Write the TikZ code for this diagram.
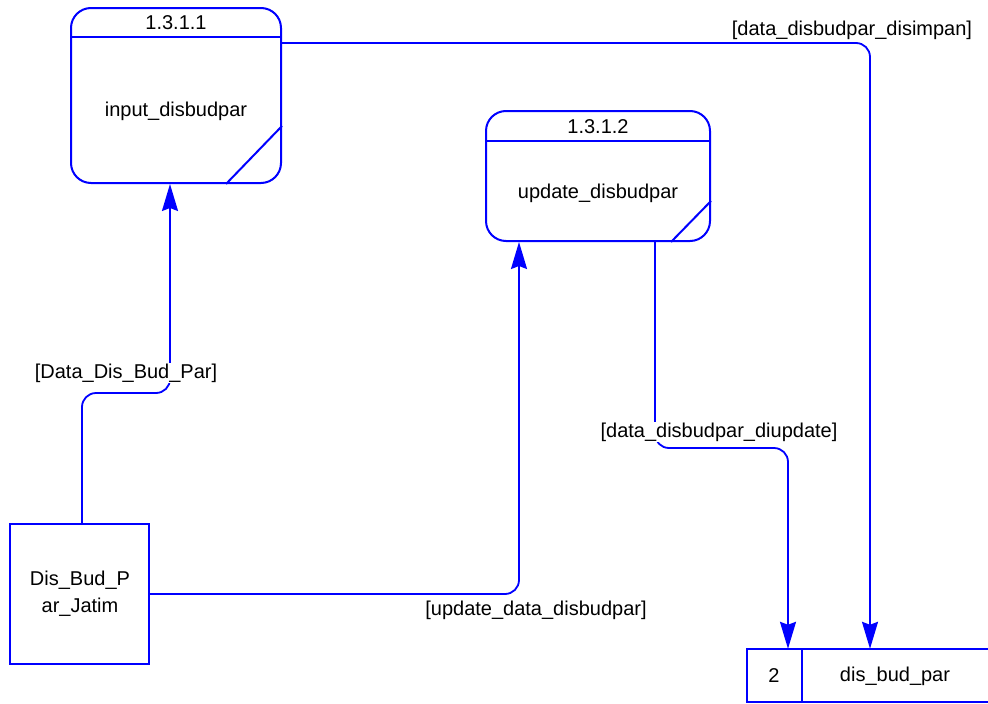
\documentclass[tikz,border=0pt]{standalone}
\usepackage{fontspec}
\setmainfont{Liberation Sans}
\usetikzlibrary{arrows.meta}
\definecolor{dfdblue}{RGB}{0,0,255}
\tikzset{
  proc/.style={draw=dfdblue, line width=2pt, rounded corners=20pt, inner sep=0pt},
  entbox/.style={draw=dfdblue, line width=2pt, inner sep=0pt},
  edge/.style={draw=dfdblue, line width=2pt},
  flow/.style={draw=dfdblue, line width=1.8pt, rounded corners=14pt, -{Stealth[length=27pt,width=16pt,inset=3pt]}},
  txt/.style={font=\fontsize{20}{23}\selectfont, inner sep=1pt, text=black},
  lbl/.style={txt, fill=white}
}
\begin{document}
\begin{tikzpicture}[x=1pt,y=-1pt]
\useasboundingbox (0,0) rectangle (988,704);
% process 1
\node[proc, minimum width=210pt, minimum height=175pt] (p1) at (176,95.5) {};
\draw[edge] ([yshift=-30pt]p1.north west) -- ([yshift=-30pt]p1.north east);
\draw[edge] ([xshift=-56pt]p1.south east) -- ([yshift=58pt]p1.south east);
\node[txt] (p1id) at (176,23) {1.3.1.1};
\node[txt] (p1name) at (176,111) {input\_disbudpar};
% process 2
\node[proc, minimum width=224pt, minimum height=130pt] (p2) at (598,176) {};
\draw[edge] ([yshift=-31pt]p2.north west) -- ([yshift=-31pt]p2.north east);
\draw[edge] ([xshift=-40pt]p2.south east) -- ([yshift=41pt]p2.south east);
\node[txt] (p2id) at (598,127) {1.3.1.2};
\node[txt] (p2name) at (598,193) {update\_disbudpar};
% external entity
\node[entbox, minimum width=139pt, minimum height=140pt] (ent) at (79.5,594) {};
\node[txt, align=center] (entname) at (80,594) {Dis\_Bud\_P\\[4pt]ar\_Jatim};
% data store
\node[minimum width=241pt, minimum height=53pt, inner sep=0pt] (ds) at (867.5,675.5) {};
\draw[edge] (ds.north east) -- (ds.north west) -- (ds.south west) -- (ds.south east);
\draw[edge] (ds.north west -| 802,0) -- (ds.south west -| 802,0);
\node[txt] (dsid) at (774,676) {2};
\node[txt] (dsname) at (895,676) {dis\_bud\_par};
% flows
\draw[flow] ([xshift=2.5pt]ent.north) |- (170,393) -- ([xshift=-6pt]p1.south);
\node[lbl] (l1) at (126,373) {[Data\_Dis\_Bud\_Par]};
\draw[flow] ([yshift=-36pt]p1.north east) -| ([xshift=2.5pt]ds.north);
\node[lbl] (l2) at (852,30) {[data\_disbudpar\_disimpan]};
\draw[flow] (ent.east) -| ([xshift=-79pt]p2.south);
\node[lbl] (l3) at (536,610) {[update\_data\_disbudpar]};
\draw[flow] ([xshift=57pt]p2.south) |- (788,448) -- ([xshift=-79.5pt]ds.north);
\node[lbl] (l4) at (719,432) {[data\_disbudpar\_diupdate]};
\end{tikzpicture}
\end{document}
